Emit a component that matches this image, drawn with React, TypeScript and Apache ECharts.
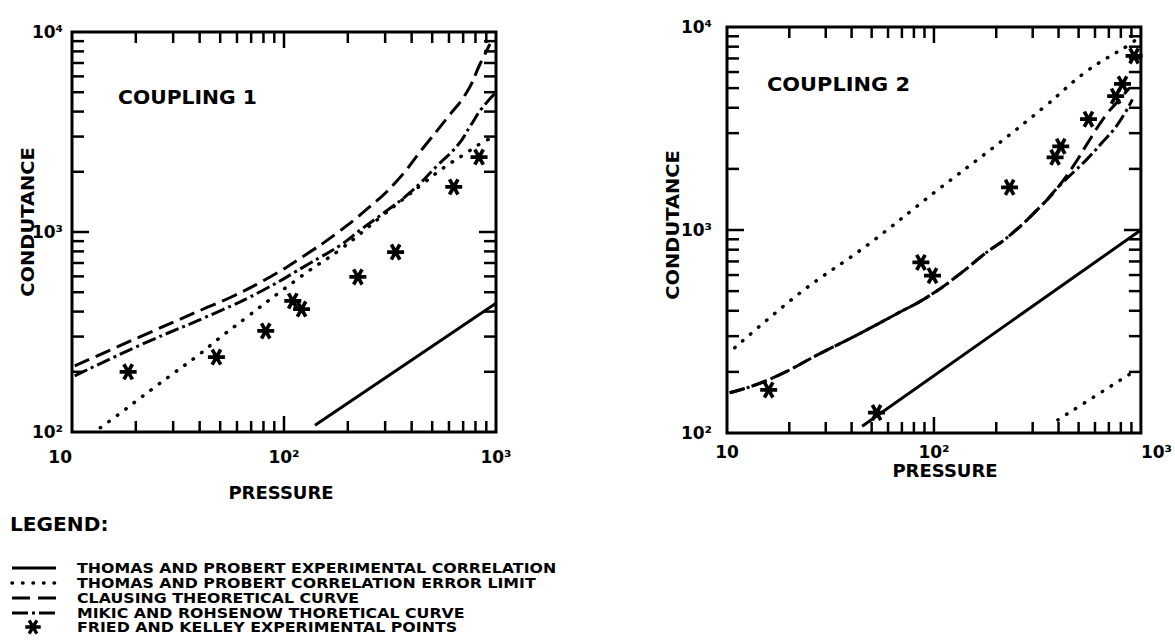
import React, { useEffect, useRef } from "react";
import * as echarts from "echarts";

const FONT = '"DejaVu Sans", "Liberation Sans", sans-serif';

// ---------- legend / series names ----------
const NAME_TP = "THOMAS AND PROBERT EXPERIMENTAL CORRELATION";
const NAME_ERR = "THOMAS AND PROBERT CORRELATION ERROR LIMIT";
const NAME_CLA = "CLAUSING THEORETICAL CURVE";
const NAME_MIK = "MIKIC AND ROHSENOW THORETICAL CURVE";
const NAME_PTS = "FRIED AND KELLEY EXPERIMENTAL POINTS";
const LEGEND_NAMES = [NAME_TP, NAME_ERR, NAME_CLA, NAME_MIK, NAME_PTS];

// ---------- axes ----------
const X_MIN = 10;
const X_MAX = 1000;
const Y_MIN = 100;
const Y_MAX = 10000;
const X_MINOR = [20, 30, 40, 50, 60, 70, 80, 90, 200, 300, 400, 500, 600, 700, 800, 900];
const X_MAJOR = [100];
const Y_MINOR = [200, 300, 400, 500, 600, 700, 800, 900, 2000, 3000, 4000, 5000, 6000, 7000, 8000, 9000];
const Y_MAJOR = [1000];
const SUP: Record<number, string> = { 2: "\u00B2", 3: "\u00B3", 4: "\u2074" };

// ---------- COUPLING 1 ----------
const c1Thomas = [[140, 108], [1000, 440]];
const c1ErrUpper = [
  [13.6, 105], [17.2, 126], [21, 148], [25, 170], [30, 196], [39, 240], [49, 292],
  [67, 376], [93, 490], [116, 582], [131, 640], [185, 820], [286, 1190], [457, 1760],
  [568, 2100], [698, 2420], [850, 2780], [950, 2950],
];
const c1Clausing = [
  [10.3, 214], [20.9, 299], [43.9, 422], [58.1, 480], [85.9, 596], [124, 759],
  [178, 989], [246, 1300], [334, 1758], [453, 2630], [588, 3715], [729, 5012],
  [841, 6918], [937, 8710],
];
const c1Mikic = [
  [10.3, 191], [21, 272], [48.5, 398], [80, 513], [133, 700], [185, 861], [228, 1020],
  [295, 1245], [396, 1585], [532, 2163], [661, 2723], [762, 3428], [850, 4100], [1000, 5000],
];
const c1Points = [
  [18.4, 200], [48, 237], [82, 320], [110, 452], [121, 412], [223, 596], [336, 794],
  [632, 1679], [832, 2371],
];

// ---------- COUPLING 2 ----------
const c2Thomas = [[45, 108], [1000, 1000]];
const c2ErrUpper = [
  [10.9, 263], [22.6, 491], [48, 847], [102, 1549], [194, 2553], [345, 4074],
  [548, 6067], [889, 8241], [960, 8800],
];
const c2ErrLower = [[397, 116], [918, 200]];
const c2Clausing = [
  [10.3, 158], [15.9, 183], [29.2, 251], [41.7, 301], [66.2, 387], [95.3, 475],
  [136, 617], [174, 757], [232, 939], [331, 1321], [397, 1622], [477, 2104],
  [548, 2642], [671, 3631], [773, 4300], [880, 5000],
];
const c2Mikic = [
  [10.3, 158], [15.9, 183], [29.2, 251], [41.7, 301], [66.2, 387], [95.3, 475],
  [136, 617], [174, 757], [232, 939], [331, 1321], [397, 1622], [477, 1945],
  [548, 2229], [640, 2650], [773, 3320], [910, 4400],
];
const c2Points = [
  [15.9, 163], [52.8, 126], [86.5, 692], [98.4, 596], [232, 1622], [385, 2280],
  [410, 2582], [558, 3516], [815, 5240], [755, 4560], [927, 7200],
];

const STAR_D =
  "M-7,1.5L7,1.5L7,-1.5L-7,-1.5Z M-4.799,-5.312L2.201,6.812L4.799,5.312L-2.201,-6.812Z M2.201,-6.812L-4.799,5.312L-2.201,6.812L4.799,-5.312Z";
const STAR = "path://" + STAR_D;

const STROKE = "#000";

const DOT_DASH = [0.5, 10];
const CLA_DASH = [16, 7];
const MIK_DASH = [14, 4, 3, 4];

echarts.graphic.registerShape("fkstar", echarts.graphic.extendPath(STAR_D, {}));

function xTickRender(_params: any, api: any) {
  const v = api.value(0);
  const major = api.value(2);
  const b = api.coord([v, Y_MIN]);
  const t = api.coord([v, Y_MAX]);
  const len = major ? 16 : 11;
  return {
    type: "group",
    children: [
      { type: "line", shape: { x1: b[0], y1: b[1], x2: b[0], y2: b[1] - len }, style: { stroke: STROKE, lineWidth: 2.5 } },
      { type: "line", shape: { x1: t[0], y1: t[1], x2: t[0], y2: t[1] + len }, style: { stroke: STROKE, lineWidth: 2.5 } },
    ],
  };
}

function yTickRender(_params: any, api: any) {
  const v = api.value(1);
  const major = api.value(2);
  const l = api.coord([X_MIN, v]);
  const r = api.coord([X_MAX, v]);
  const len = major ? 17 : 12;
  return {
    type: "group",
    children: [
      { type: "line", shape: { x1: l[0], y1: l[1], x2: l[0] + len, y2: l[1] }, style: { stroke: STROKE, lineWidth: 2.5 } },
      { type: "line", shape: { x1: r[0], y1: r[1], x2: r[0] - len, y2: r[1] }, style: { stroke: STROKE, lineWidth: 2.5 } },
    ],
  };
}

const xTickData = X_MINOR.map((v) => [v, Y_MIN, 0]).concat(X_MAJOR.map((v) => [v, Y_MIN, 1]));
const yTickData = Y_MINOR.map((v) => [X_MIN, v, 0]).concat(Y_MAJOR.map((v) => [X_MIN, v, 1]));

function logLabel(v: number) {
  const e = Math.round(Math.log10(v));
  return e === 1 ? "10" : "10" + (SUP[e] || "");
}

const labelStyle = {
  fontFamily: FONT,
  fontWeight: "bold" as const,
  fontSize: 17,
  color: STROKE,
  formatter: logLabel,
};

function seriesFor(grid: number, thomas: number[][], errs: number[][][], clausing: number[][], mikic: number[][], pts: number[][]) {
  const base = { xAxisIndex: grid, yAxisIndex: grid };
  const out: any[] = [];
  out.push({
    ...base, type: "line", name: NAME_TP, data: thomas, symbol: "none", z: 3,
    itemStyle: { color: STROKE },
    lineStyle: { color: STROKE, width: 3, type: "solid" },
  });
  errs.forEach((e) =>
    out.push({
      ...base, type: "line", name: NAME_ERR, data: e, symbol: "none", smooth: 0.4, z: 3,
      itemStyle: { color: STROKE },
      lineStyle: { color: STROKE, width: 3.5, type: DOT_DASH, cap: "round" },
    })
  );
  out.push({
    ...base, type: "line", name: NAME_CLA, data: clausing, symbol: "none", smooth: 0.5, z: 3,
    itemStyle: { color: STROKE },
    lineStyle: { color: STROKE, width: 3, type: CLA_DASH },
  });
  out.push({
    ...base, type: "line", name: NAME_MIK, data: mikic, symbol: "none", smooth: 0.5, z: 3,
    itemStyle: { color: STROKE },
    lineStyle: { color: STROKE, width: 3, type: MIK_DASH },
  });
  out.push({
    ...base, type: "scatter", name: NAME_PTS, data: pts, symbol: STAR, symbolSize: 17, z: 4,
    itemStyle: { color: STROKE, opacity: 1 },
  });
  out.push({ ...base, type: "custom", name: "xticks", data: xTickData, renderItem: xTickRender, z: 5, silent: true });
  out.push({ ...base, type: "custom", name: "yticks", data: yTickData, renderItem: yTickRender, z: 5, silent: true });
  return out;
}

function txt(text: string, x: number, y: number, size: number, opts: any = {}) {
  return {
    type: "text",
    x,
    y,
    rotation: opts.rotation || 0,
    scaleX: opts.scaleX || 1,
    style: {
      text,
      font: `bold ${size}px ${FONT}`,
      fill: STROKE,
      textAlign: opts.align || "left",
      textVerticalAlign: "middle",
    },
  };
}

// hand-drawn legend (key samples + texts)
const LEGEND_ROW_Y = [568, 583, 598, 613, 627];
const LEGEND_SAMPLE_X = [12, 56];
const LEGEND_TEXT_X = 77;

function legendGraphics() {
  const els: any[] = [txt("LEGEND:", 10, 525, 19, { scaleX: 1.06 })];
  const dashes: any[] = [null, DOT_DASH, [18, 8], [16, 4, 3, 4]];
  LEGEND_NAMES.forEach((name, i) => {
    const y = LEGEND_ROW_Y[i];
    if (i < 4) {
      els.push({
        type: "line",
        shape: { x1: LEGEND_SAMPLE_X[0], y1: y, x2: LEGEND_SAMPLE_X[1], y2: y },
        style: {
          stroke: STROKE,
          lineWidth: i === 1 ? 3.5 : 3,
          lineDash: dashes[i] || undefined,
          lineCap: i === 1 ? "round" : "butt",
        },
      });
    } else {
      els.push({ type: "fkstar", x: 33, y, scaleX: 1.1, scaleY: 1.1, style: { fill: STROKE } });
    }
    els.push(txt(name, LEGEND_TEXT_X, y, 14, { scaleX: 1.13 }));
  });
  return els;
}

export default function App() {
  const ref = useRef<HTMLDivElement>(null);
  useEffect(() => {
    if (!ref.current) return;
    const chart = echarts.init(ref.current, null, { renderer: "svg" });
    const axisCommon = {
      type: "log" as const,
      logBase: 10,
      axisLine: { show: false },
      axisTick: { show: false },
      splitLine: { show: false },
    };
    chart.setOption({
      animation: false,
      backgroundColor: "#fff",
      grid: [
        { left: 72, top: 32, width: 424, height: 400, show: true, borderColor: STROKE, borderWidth: 3, backgroundColor: "transparent" },
        { left: 727, top: 27, width: 427, height: 406, show: true, borderColor: STROKE, borderWidth: 3, backgroundColor: "transparent" },
      ],
      xAxis: [
        { ...axisCommon, gridIndex: 0, min: X_MIN, max: X_MAX, axisLabel: { ...labelStyle, margin: 16, alignMinLabel: "right" } },
        { ...axisCommon, gridIndex: 1, min: X_MIN, max: X_MAX, axisLabel: { ...labelStyle, margin: 10, alignMaxLabel: "left" } },
      ],
      yAxis: [
        { ...axisCommon, gridIndex: 0, min: Y_MIN, max: Y_MAX, axisLabel: { ...labelStyle, margin: 9 } },
        { ...axisCommon, gridIndex: 1, min: Y_MIN, max: Y_MAX, axisLabel: { ...labelStyle, margin: 15 } },
      ],
      graphic: [
        txt("COUPLING 1", 118, 98, 19, { scaleX: 1.07 }),
        txt("COUPLING 2", 767, 84, 19, { scaleX: 1.1 }),
        txt("CONDUTANCE", 28, 222, 18, { rotation: Math.PI / 2, align: "center", scaleX: 1.08 }),
        txt("CONDUTANCE", 673, 225, 18, { rotation: Math.PI / 2, align: "center", scaleX: 1.08 }),
        txt("PRESSURE", 281, 492, 18, { align: "center" }),
        txt("PRESSURE", 945, 470, 18, { align: "center" }),
        ...legendGraphics(),
      ],
      series: [
        ...seriesFor(0, c1Thomas, [c1ErrUpper], c1Clausing, c1Mikic, c1Points),
        ...seriesFor(1, c2Thomas, [c2ErrUpper, c2ErrLower], c2Clausing, c2Mikic, c2Points),
      ],
    });
    return () => chart.dispose();
  }, []);
  return (
    <div
      ref={ref}
      style={{ position: "fixed", left: 0, top: 0, width: 1175, height: 642, background: "#fff" }}
    />
  );
}
